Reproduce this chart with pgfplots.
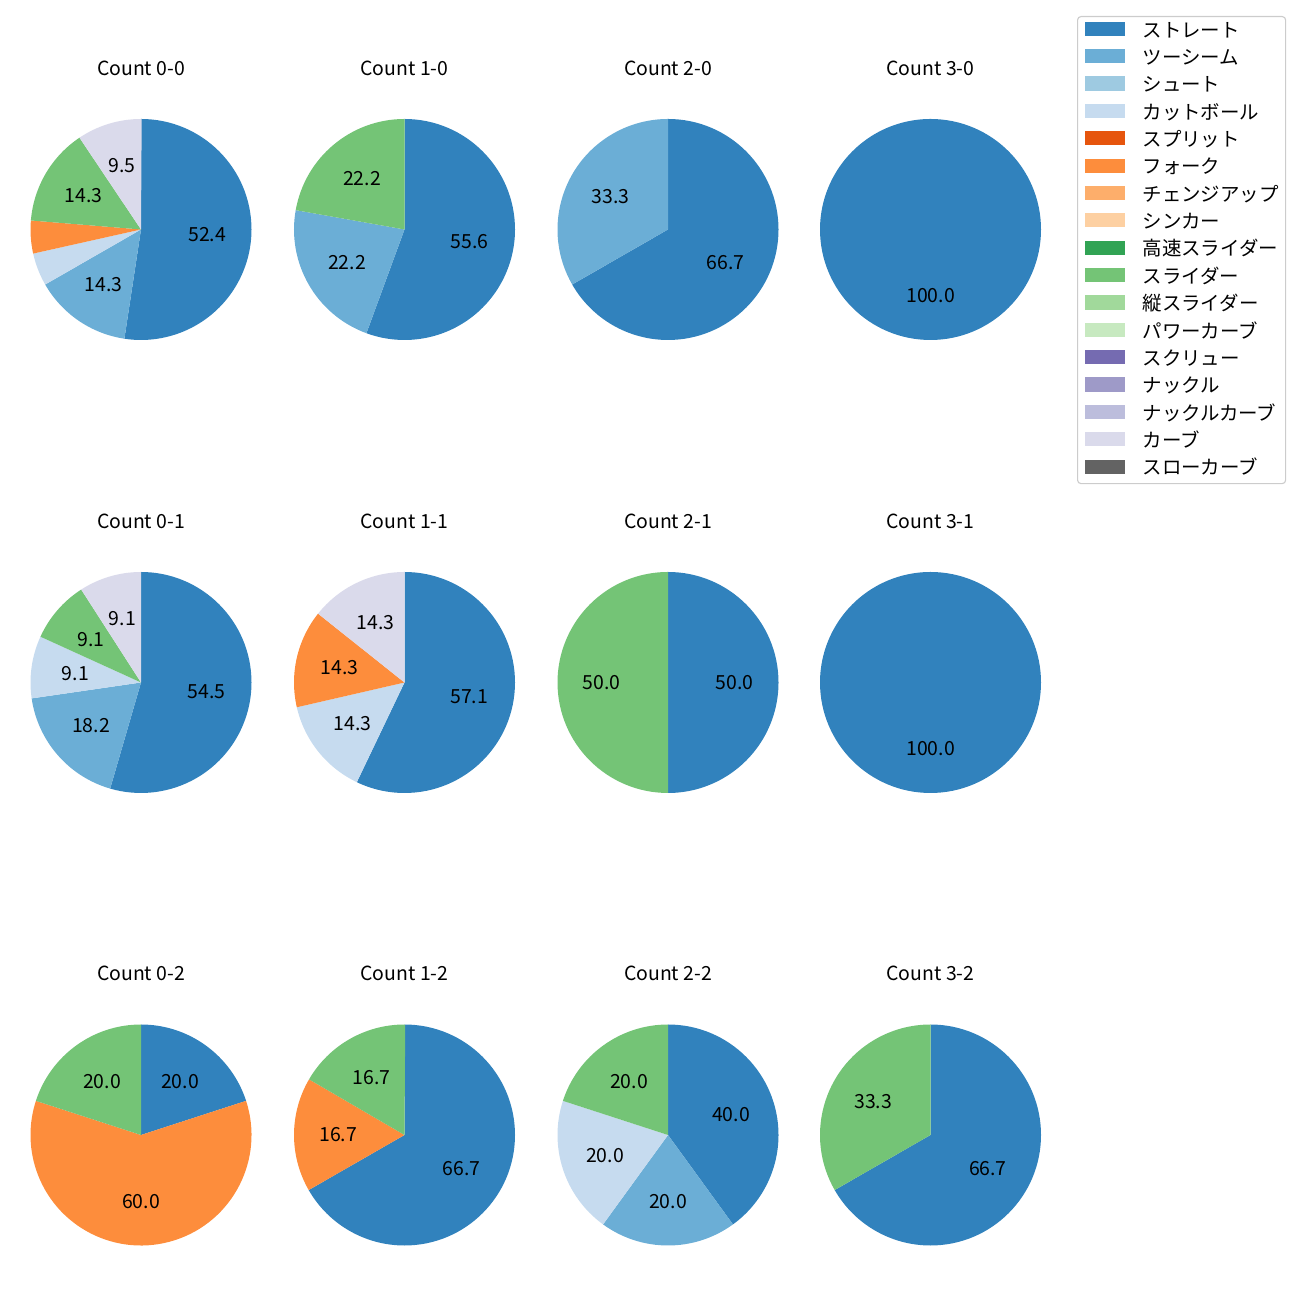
\documentclass[border=0pt]{standalone}
\usepackage{pgfplots}
\pgfplotsset{compat=1.18}
\usepackage{fontspec}
\setmainfont{Noto Sans CJK JP}
\definecolor{c0}{HTML}{3182BD}
\definecolor{c1}{HTML}{6BAED6}
\definecolor{c2}{HTML}{9ECAE1}
\definecolor{c3}{HTML}{C6DBEF}
\definecolor{c4}{HTML}{E6550D}
\definecolor{c5}{HTML}{FD8D3C}
\definecolor{c6}{HTML}{FDAE6B}
\definecolor{c7}{HTML}{FDD0A2}
\definecolor{c8}{HTML}{31A354}
\definecolor{c9}{HTML}{74C476}
\definecolor{c10}{HTML}{A1D99B}
\definecolor{c11}{HTML}{C7E9C0}
\definecolor{c12}{HTML}{756BB1}
\definecolor{c13}{HTML}{9E9AC8}
\definecolor{c14}{HTML}{BCBDDC}
\definecolor{c15}{HTML}{DADAEB}
\definecolor{c16}{HTML}{636363}
\newcommand\f{\fontsize{14pt}{16.8pt}\selectfont}
\def\R{79.56pt}
\pgfplotsset{pieax/.style={hide axis, clip=false, x=\R, y=\R,
  xmin=-1.1, xmax=1.1, ymin=-1.1, ymax=1.1, anchor=origin}}
\newcommand\piechart[1]{%
  \gdef\cumA{90}%
  \foreach \v/\c in {#1}{%
    \pgfmathsetmacro\endA{\cumA-3.6*\v}%
    \pgfmathsetmacro\midA{(\cumA+\endA)/2}%
    \pgfmathsetmacro\lx{0.6*cos(\midA)}%
    \pgfmathsetmacro\ly{0.6*sin(\midA)}%
    \pgfmathsetmacro\sx{cos(\cumA)}%
    \pgfmathsetmacro\sy{sin(\cumA)}%
    \edef\temp{\noexpand\fill[\c] (axis cs:0,0) -- (axis cs:\sx,\sy) arc[start angle=\cumA, end angle=\endA, radius=\R] -- cycle;}%
    \temp
    \ifdim\v pt<5pt\else
      \edef\temp{\noexpand\node[font=\noexpand\f] at (axis cs:\lx,\ly) {\v};}\temp
    \fi
    \xdef\cumA{\endA}%
  }}
\newcommand\pie[4]{%
  \pgfmathsetmacro\cx{#1*0.72}%
  \pgfmathsetmacro\cy{(1300-#2)*0.72}%
  \edef\temp{\noexpand\begin{axis}[pieax, at={(\cx pt,\cy pt)}]}\temp
  \node[anchor=base, font=\f] at (axis cs:0,1.394) {#3};
  \piechart{#4}
  \end{axis}}
\begin{document}
\begin{tikzpicture}[font=\f]
\useasboundingbox (0pt,0pt) rectangle (936pt,936pt);
% row 1
\pie{141}{229.5}{Count 0-0}{52.4/c0, 14.3/c1, 4.8/c3, 4.8/c5, 14.3/c9, 9.5/c15}
\pie{404.5}{229.5}{Count 1-0}{55.6/c0, 22.2/c1, 22.2/c9}
\pie{668}{229.5}{Count 2-0}{66.7/c0, 33.3/c1}
\pie{930.5}{229.5}{Count 3-0}{100.0/c0}
% row 2
\pie{141}{682.5}{Count 0-1}{54.5/c0, 18.2/c1, 9.1/c3, 9.1/c9, 9.1/c15}
\pie{404.5}{682.5}{Count 1-1}{57.1/c0, 14.3/c3, 14.3/c5, 14.3/c15}
\pie{668}{682.5}{Count 2-1}{50.0/c0, 50.0/c9}
\pie{930.5}{682.5}{Count 3-1}{100.0/c0}
% row 3
\pie{141}{1135}{Count 0-2}{20.0/c0, 60.0/c5, 20.0/c9}
\pie{404.5}{1135}{Count 1-2}{66.7/c0, 16.7/c5, 16.7/c9}
\pie{668}{1135}{Count 2-2}{40.0/c0, 20.0/c1, 20.0/c3, 20.0/c9}
\pie{930.5}{1135}{Count 3-2}{66.7/c0, 33.3/c9}
% legend
\begin{axis}[hide axis, x=1pt, y=1pt, xmin=0, xmax=1, ymin=0, ymax=1,
  at={(775.44pt,924.48pt)}, anchor=north west,
  legend cell align=left,
  legend image code/.code={\fill[#1, sharp corners] (0pt,-3pt) rectangle (28pt,6.4pt);},
  legend style={at={(0,1)}, anchor=north west, draw=black!20, line width=0.8pt,
    rounded corners=2.5pt, inner xsep=5pt, inner ysep=0.7pt, row sep=0pt,
    column sep=13pt, font=\f,
    nodes={inner sep=0pt, text height=14.1pt, text depth=5.6pt}}]
\addlegendimage{c0}\addlegendentry{ストレート}
\addlegendimage{c1}\addlegendentry{ツーシーム}
\addlegendimage{c2}\addlegendentry{シュート}
\addlegendimage{c3}\addlegendentry{カットボール}
\addlegendimage{c4}\addlegendentry{スプリット}
\addlegendimage{c5}\addlegendentry{フォーク}
\addlegendimage{c6}\addlegendentry{チェンジアップ}
\addlegendimage{c7}\addlegendentry{シンカー}
\addlegendimage{c8}\addlegendentry{高速スライダー}
\addlegendimage{c9}\addlegendentry{スライダー}
\addlegendimage{c10}\addlegendentry{縦スライダー}
\addlegendimage{c11}\addlegendentry{パワーカーブ}
\addlegendimage{c12}\addlegendentry{スクリュー}
\addlegendimage{c13}\addlegendentry{ナックル}
\addlegendimage{c14}\addlegendentry{ナックルカーブ}
\addlegendimage{c15}\addlegendentry{カーブ}
\addlegendimage{c16}\addlegendentry{スローカーブ}
\end{axis}
\end{tikzpicture}
\end{document}
